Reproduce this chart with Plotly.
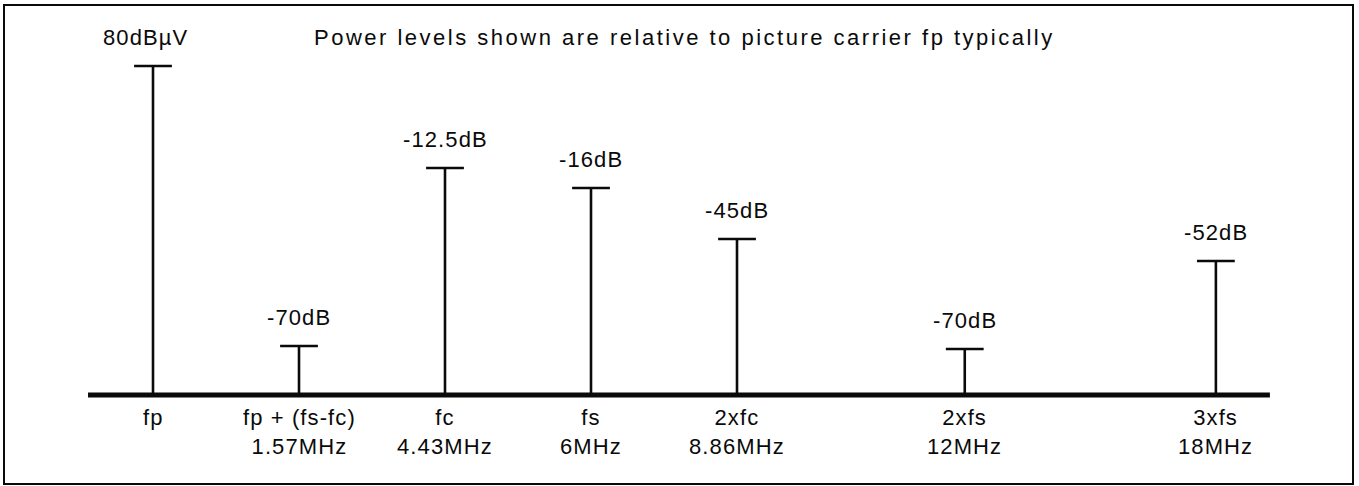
import plotly.graph_objects as go

# ---- data ----
names = ["fp", "fp + (fs-fc)", "fc", "fs", "2xfc", "2xfs", "3xfs"]
freqs = ["", "1.57MHz", "4.43MHz", "6MHz", "8.86MHz", "12MHz", "18MHz"]
levels = ["80dBµV", "-70dB", "-12.5dB", "-16dB", "-45dB", "-70dB", "-52dB"]
# schematic horizontal slot of each line in the diagram
slots = [0, 1, 2, 3, 4, 5.56, 7.28]
# drawn height of each line (diagram units, baseline = 0)
heights = [329, 49, 227, 207, 156, 46, 134]
note = "Power levels shown are relative to picture carrier fp typically"

INK = "#0a0a0a"
FONT = "Liberation Sans, Arial, Helvetica, sans-serif"
FS = 22


def spaced(t, px):
    return '<span style="letter-spacing:%spx">%s</span>' % (px, t)


fig = go.Figure()

# stems
sx, sy = [], []
for x, h in zip(slots, heights):
    sx += [x, x, None]
    sy += [0, h, None]
fig.add_trace(go.Scatter(x=sx, y=sy, mode="lines",
                         line=dict(color=INK, width=2.6),
                         hoverinfo="skip", showlegend=False))
# caps
fig.add_trace(go.Scatter(x=slots, y=heights, mode="markers",
                         marker=dict(symbol="line-ew", size=27,
                                     line=dict(color=INK, width=2.6)),
                         hoverinfo="skip", showlegend=False, cliponaxis=False))

# level labels above each line
for i, (x, h, t) in enumerate(zip(slots, heights, levels)):
    fig.add_annotation(x=x, y=h, text=spaced(t, 1.1), showarrow=False,
                       yanchor="bottom", yshift=14,
                       xshift=-8 if i == 0 else 0,
                       font=dict(family=FONT, size=FS, color=INK))

# names / frequencies under the baseline
for x, n, f in zip(slots, names, freqs):
    txt = spaced(n, 1.1) if not f else spaced(n, 1.1) + "<br>" + spaced(f, 1.1)
    fig.add_annotation(x=x, y=0, text=txt, showarrow=False,
                       yanchor="top", yshift=-8, align="center",
                       font=dict(family=FONT, size=FS, color=INK))

# baseline
fig.add_shape(type="line", x0=slots[0] - 0.445, x1=slots[-1] + 0.37,
              y0=0, y1=0, line=dict(color=INK, width=5))

# note
fig.add_annotation(xref="paper", yref="paper", x=0.504, y=1 - 37 / 486,
                   text=spaced(note, 2.5), showarrow=False,
                   xanchor="center", yanchor="middle",
                   font=dict(family=FONT, size=FS, color=INK))

# frame
fig.add_shape(type="rect", xref="paper", yref="paper",
              x0=4 / 1359, x1=1353 / 1359, y0=1 - 484 / 486, y1=1 - 5 / 486,
              line=dict(color=INK, width=2))

fig.update_layout(
    width=1359, height=486,
    margin=dict(l=0, r=0, t=0, b=0),
    paper_bgcolor="white", plot_bgcolor="white",
    xaxis=dict(range=[-153 / 146, (1359 - 153) / 146], visible=False, fixedrange=True),
    yaxis=dict(range=[395 - 486, 395], visible=False, fixedrange=True),
    showlegend=False,
)

fig.write_html("out.html", config={"displayModeBar": False},
               post_script="document.body.style.margin='0';document.body.style.overflow='hidden';")
